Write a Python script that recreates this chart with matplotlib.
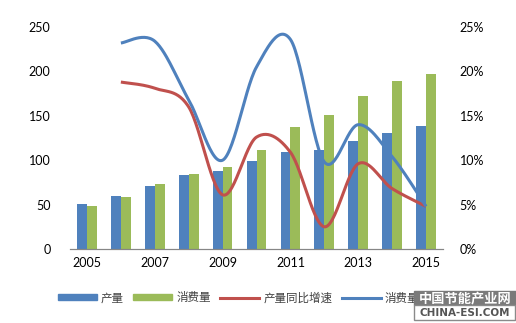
import numpy as np
import matplotlib
matplotlib.use("Agg")
import matplotlib.pyplot as plt
from matplotlib.patches import Rectangle
from matplotlib.lines import Line2D
from matplotlib.patches import Patch

plt.rcParams['font.family'] = ['Lato', 'Noto Sans CJK SC', 'DejaVu Sans']

years = [2005, 2006, 2007, 2008, 2009, 2010, 2011, 2012, 2013, 2014, 2015]
production = [51, 60, 71, 83, 88, 99, 109, 112, 122, 131, 138]
consumption = [48, 59, 73, 84, 92, 111, 137, 151, 172, 189, 197]
# year-on-year growth (%), starting from 2006
prod_growth = [18.8, 18.1, 16.0, 6.1, 12.6, 10.9, 2.5, 9.6, 6.8, 4.8]
cons_growth = [23.2, 23.4, 16.8, 10.0, 20.5, 23.6, 9.8, 14.0, 10.4, 4.8]
tick_years = [2005, 2007, 2009, 2011, 2013, 2015]

labels = ['产量', '消费量', '产量同比增速', '消费量同比增速']
c_blue = '#4F81BD'
c_green = '#9BBB59'
c_red = '#C0504D'


def smooth(x, y, n=30):
    """Bezier smoothing through every point (control points at +-1/6 of neighbour slope)."""
    x = np.asarray(x, float)
    y = np.asarray(y, float)
    px = np.concatenate([[x[0]], x, [x[-1]]])
    py = np.concatenate([[y[0]], y, [y[-1]]])
    xs, ys = [], []
    t = np.linspace(0, 1, n)
    for i in range(len(x) - 1):
        p0 = np.array([px[i + 1], py[i + 1]])
        p3 = np.array([px[i + 2], py[i + 2]])
        p1 = p0 + (np.array([px[i + 2], py[i + 2]]) - np.array([px[i], py[i]])) / 6
        p2 = p3 - (np.array([px[i + 3], py[i + 3]]) - np.array([px[i + 1], py[i + 1]])) / 6
        b = (((1 - t) ** 3)[:, None] * p0 + (3 * (1 - t) ** 2 * t)[:, None] * p1
             + (3 * (1 - t) * t ** 2)[:, None] * p2 + (t ** 3)[:, None] * p3)
        xs.append(b[:, 0])
        ys.append(b[:, 1])
    return np.concatenate(xs), np.concatenate(ys)


fig = plt.figure(figsize=(5.16, 3.23), dpi=100)
ax = fig.add_axes([0.1357, 0.2291, 0.7228, 0.6873])
ax2 = ax.twinx()

idx = np.arange(len(years))
w = 0.29
ax.bar(idx - w / 2, production, w, color=c_blue, zorder=2)
ax.bar(idx + w / 2, consumption, w, color=c_green, zorder=2)

ax.set_xlim(-0.5, len(years) - 0.5)
ax.set_ylim(0, 250)
ax.set_yticks(range(0, 251, 50))
ax.set_xticks([years.index(y) for y in tick_years])
ax.set_xticklabels([str(y) for y in tick_years])

gx = idx[1:]
sx, sy = smooth(gx, prod_growth)
ax2.plot(sx, sy, color=c_red, lw=2.2, solid_capstyle='butt')
sx, sy = smooth(gx, cons_growth)
ax2.plot(sx, sy, color=c_blue, lw=2.2, solid_capstyle='butt')
ax2.set_ylim(0, 25)
ax2.set_yticks(range(0, 26, 5))
ax2.set_yticklabels([f'{v}%' for v in range(0, 26, 5)])

for a in (ax, ax2):
    for s in ('top', 'left', 'right'):
        a.spines[s].set_visible(False)
    a.spines['bottom'].set_color('#868686')
    a.tick_params(length=0, labelsize=9, colors='black')
ax.tick_params(axis='y', pad=14)
ax.tick_params(axis='x', pad=6)
ax2.tick_params(axis='y', pad=12)

W, H = 516, 323
handles = [Patch(color=c_blue), Patch(color=c_green),
           Line2D([], [], color=c_red, lw=2.2), Line2D([], [], color=c_blue, lw=2.2)]
leg = fig.legend(handles, labels, loc='center left', bbox_to_anchor=(52 / W, 1 - 298 / H), ncol=4,
                 frameon=False, borderpad=0, handlelength=3.4, handleheight=0.4, handletextpad=0.35,
                 columnspacing=0.8, prop={'family': ['Noto Sans CJK SC'], 'size': 8.3})
for t in leg.get_texts():
    t.set_color('#404040')

# site badge in the lower right corner
fig.patches.append(Rectangle((414 / W, 1 - 305 / H), 102 / W, 14 / H, transform=fig.transFigure,
                             color='#7a7a7a', zorder=10))
fig.patches.append(Rectangle((414 / W, 1 - 320 / H), 101 / W, 15 / H, transform=fig.transFigure,
                             facecolor='white', edgecolor='#8a8a8a', lw=1, zorder=10))
fig.text(465 / W, 1 - 298 / H, '中国节能产业网', color='white', fontsize=9.5, fontweight='bold',
         family=['Noto Sans CJK SC'], ha='center', va='center', zorder=11)
fig.text(465 / W, 1 - 312.5 / H, 'CHINA-ESI.COM', color='#555555', fontsize=7.5, fontweight='bold',
         family=['DejaVu Sans'], ha='center', va='center', zorder=11)

fig.savefig('out.png', dpi=100)
